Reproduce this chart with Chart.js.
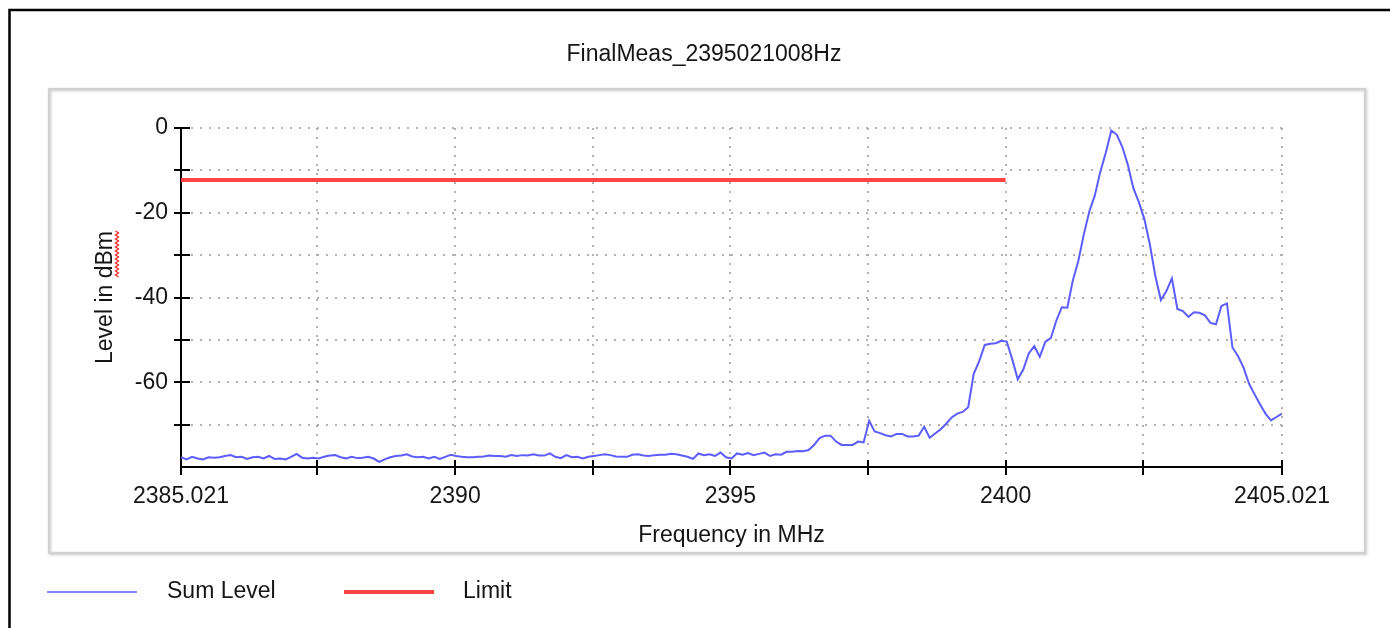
<!DOCTYPE html>
<html>
<head>
<meta charset="utf-8">
<title>FinalMeas_2395021008Hz</title>
<script src="https://cdn.jsdelivr.net/npm/chart.js@4"></script>
<style>
  html, body { margin: 0; padding: 0; background: #fff; }
  canvas { display: block; }
</style>
</head>
<body>
<canvas id="measChart" width="1390" height="628"></canvas>
<script>
const chartTitle = 'FinalMeas_2395021008Hz';
const seriesNames = ['Sum Level', 'Limit'];

// sweep settings in MHz
const startFreq = 2385.021;
const stopFreq = 2405.021;
const stepFreq = 0.1;

// measured sum level in dBm, one value per sweep step
const sumLevel = [
  -77.7, -78.2, -77.6, -78.0, -78.2, -77.7, -77.8, -77.7, -77.4, -77.2,
  -77.7, -77.6, -78.1, -77.7, -77.6, -78.0, -77.4, -78.1, -78.0, -78.2,
  -77.6, -76.9, -77.8, -78.0, -77.8, -78.0, -77.6, -77.3, -77.2, -77.7,
  -78.0, -77.6, -77.9, -77.8, -77.6, -78.0, -78.8, -78.2, -77.7, -77.4,
  -77.3, -77.0, -77.5, -77.7, -77.6, -78.0, -77.6, -78.1, -77.6, -77.1,
  -77.4, -77.6, -77.7, -77.7, -77.6, -77.5, -77.3, -77.4, -77.4, -77.6,
  -77.2, -77.4, -77.2, -77.3, -77.0, -77.3, -77.3, -76.8, -77.6, -77.9,
  -77.2, -77.7, -77.6, -78.0, -77.6, -77.4, -77.2, -77.0, -77.2, -77.5,
  -77.6, -77.6, -77.1, -77.0, -77.3, -77.4, -77.2, -77.1, -77.1, -76.9,
  -77.0, -77.3, -77.6, -78.1, -76.8, -77.2, -77.0, -77.4, -76.6, -77.7,
  -78.0, -76.8, -77.1, -76.7, -77.2, -76.9, -76.6, -77.4, -77.0, -77.1,
  -76.4, -76.4, -76.2, -76.3, -76.0, -74.8, -73.2, -72.6, -72.6, -74.0,
  -74.8, -74.8, -74.8, -74.0, -74.2, -69.1, -71.6, -72.0, -72.5, -72.8,
  -72.2, -72.2, -72.8, -72.8, -72.6, -70.5, -73.1, -72.1, -71.1, -69.8,
  -68.3, -67.4, -67.0, -65.9, -58.0, -55.0, -51.2, -50.9, -50.8, -50.2,
  -50.4, -54.6, -59.3, -57.0, -53.2, -51.5, -54.0, -50.5, -49.6, -45.5,
  -42.3, -42.4, -36.0, -31.4, -25.1, -19.7, -15.9, -10.3, -5.8, -0.6,
  -1.6, -4.5, -8.7, -14.2, -17.5, -21.5, -27.5, -35.0, -40.6, -38.5,
  -35.5, -42.7, -43.2, -44.6, -43.5, -43.6, -44.2, -46.0, -46.3, -42.0,
  -41.4, -51.8, -53.8, -56.5, -60.3, -62.8, -65.2, -67.4, -69.0, -68.2,
  -67.4
];

// limit line
const limitFreq = [2385.021, 2400];
const limitLevel = [-12.3, -12.3];

// axis ticks
const xTickValues = [2385.021, 2387.5, 2390, 2392.5, 2395, 2397.5, 2400, 2402.5, 2405.021];
const xTickLabels = ['2385.021', '', '2390', '', '2395', '', '2400', '', '2405.021'];
const yTickValues = [-80, -70, -60, -50, -40, -30, -20, -10, 0];
const yTickLabels = ['', '', '-60', '', '-40', '', '-20', '', '0'];

const FONT = '"Liberation Sans", Arial, sans-serif';
const TEXT = '#151515';
const BLUE = 'rgb(92,92,255)';
const RED = 'rgb(255,66,66)';
const GRID = 'rgba(165,165,165,0.85)';

Chart.defaults.font.family = FONT;
Chart.defaults.font.size = 23;
Chart.defaults.color = TEXT;

const sumData = sumLevel.map((v, i) => ({ x: startFreq + i * stepFreq, y: v }));
const limitData = limitFreq.map((f, i) => ({ x: f, y: limitLevel[i] }));

// frame, title, crossing tick marks and legend
const decorations = {
  id: 'decorations',
  beforeDraw(chart) {
    const ctx = chart.ctx;
    ctx.save();
    ctx.fillStyle = '#fff';
    ctx.fillRect(0, 0, chart.width, chart.height);

    ctx.strokeStyle = '#000';
    ctx.lineWidth = 2.5;
    ctx.beginPath();
    ctx.moveTo(9.5, chart.height);
    ctx.lineTo(9.5, 10);
    ctx.lineTo(chart.width, 10);
    ctx.stroke();

    ctx.shadowColor = 'rgba(0,0,0,0.25)';
    ctx.shadowBlur = 3;
    ctx.shadowOffsetX = 1;
    ctx.shadowOffsetY = 1;
    ctx.strokeStyle = '#d0d0d0';
    ctx.lineWidth = 2;
    ctx.strokeRect(49, 89, 1316, 464);
    ctx.restore();
  },
  afterDraw(chart) {
    const ctx = chart.ctx;
    const xs = chart.scales.x;
    const ys = chart.scales.y;
    ctx.save();

    ctx.font = '23px ' + FONT;
    ctx.fillStyle = TEXT;
    ctx.textAlign = 'center';
    ctx.textBaseline = 'middle';
    ctx.fillText(chartTitle, 704, 55);

    // tick marks crossing the axes
    ctx.strokeStyle = '#000';
    ctx.lineWidth = 2;
    ctx.beginPath();
    xs.ticks.forEach(t => {
      const px = Math.round(xs.getPixelForValue(t.value));
      ctx.moveTo(px, ys.bottom - 7);
      ctx.lineTo(px, ys.bottom + 8);
    });
    ys.ticks.forEach(t => {
      if (t.value === -80) return;
      const py = Math.round(ys.getPixelForValue(t.value));
      ctx.moveTo(xs.left - 7, py);
      ctx.lineTo(xs.left + 9, py);
    });
    ctx.stroke();

    // wavy underline beneath the unit of the y title
    const full = ctx.measureText(ys.options.title.text).width;
    const unit = ctx.measureText('dBm').width;
    const yTop = (ys.top + ys.bottom) / 2 - full / 2;
    ctx.strokeStyle = 'rgb(240,40,40)';
    ctx.lineWidth = 1.3;
    ctx.beginPath();
    for (let k = 0; k * 2 <= unit; k++) {
      const wx = k % 2 ? 118.5 : 115.5;
      if (k === 0) ctx.moveTo(wx, yTop + k * 2); else ctx.lineTo(wx, yTop + k * 2);
    }
    ctx.stroke();

    // legend
    const ds = chart.data.datasets;
    const legendY = 592;
    ctx.textAlign = 'left';
    ctx.fillStyle = TEXT;
    ctx.lineWidth = 1.6;
    ctx.strokeStyle = ds[0].borderColor;
    ctx.beginPath(); ctx.moveTo(47, legendY); ctx.lineTo(137, legendY); ctx.stroke();
    ctx.fillText(ds[0].label, 167, legendY);
    ctx.lineWidth = 4;
    ctx.strokeStyle = ds[1].borderColor;
    ctx.beginPath(); ctx.moveTo(344, legendY); ctx.lineTo(434, legendY); ctx.stroke();
    ctx.fillText(ds[1].label, 463, legendY);

    ctx.restore();
  }
};

new Chart(document.getElementById('measChart'), {
  type: 'line',
  data: {
    datasets: [{
      label: seriesNames[0],
      data: sumData,
      borderColor: BLUE,
      borderWidth: 2,
      pointRadius: 0,
      tension: 0,
      fill: false
    }, {
      label: seriesNames[1],
      data: limitData,
      borderColor: RED,
      borderWidth: 4,
      pointRadius: 0,
      tension: 0,
      fill: false
    }]
  },
  options: {
    responsive: false,
    animation: false,
    devicePixelRatio: 1,
    layout: { padding: { top: 128, left: 48, right: 108, bottom: 66 } },
    plugins: {
      legend: { display: false },
      title: { display: false },
      tooltip: { enabled: false }
    },
    scales: {
      x: {
        type: 'linear',
        min: startFreq,
        max: stopFreq,
        afterBuildTicks: s => { s.ticks = xTickValues.map(v => ({ value: v })); },
        afterFit: s => { s.height = 95; s.paddingLeft = 0; s.paddingRight = 0; },
        ticks: {
          autoSkip: false,
          maxRotation: 0,
          padding: 16,
          callback: (v, i) => xTickLabels[i]
        },
        grid: {
          drawTicks: false,
          lineWidth: 2,
          color: c => c.index === 0 ? 'rgba(0,0,0,0)' : GRID
        },
        border: { display: true, color: '#000', width: 2, dash: [2, 7] },
        title: { display: true, text: 'Frequency in MHz', padding: { top: 0, bottom: 13 } }
      },
      y: {
        type: 'linear',
        min: -80,
        max: 0,
        afterBuildTicks: s => { s.ticks = yTickValues.map(v => ({ value: v })); },
        afterFit: s => { s.width = 133; s.paddingTop = 0; s.paddingBottom = 0; },
        ticks: {
          autoSkip: false,
          padding: 13,
          callback: (v, i) => yTickLabels[i]
        },
        grid: {
          drawTicks: false,
          lineWidth: 2,
          color: c => c.index === 0 ? 'rgba(0,0,0,0)' : GRID
        },
        border: { display: true, color: '#000', width: 2, dash: [2, 7] },
        title: { display: true, text: 'Level in dBm', padding: { top: 44, bottom: 0 } }
      }
    }
  },
  plugins: [decorations]
});
</script>
</body>
</html>
